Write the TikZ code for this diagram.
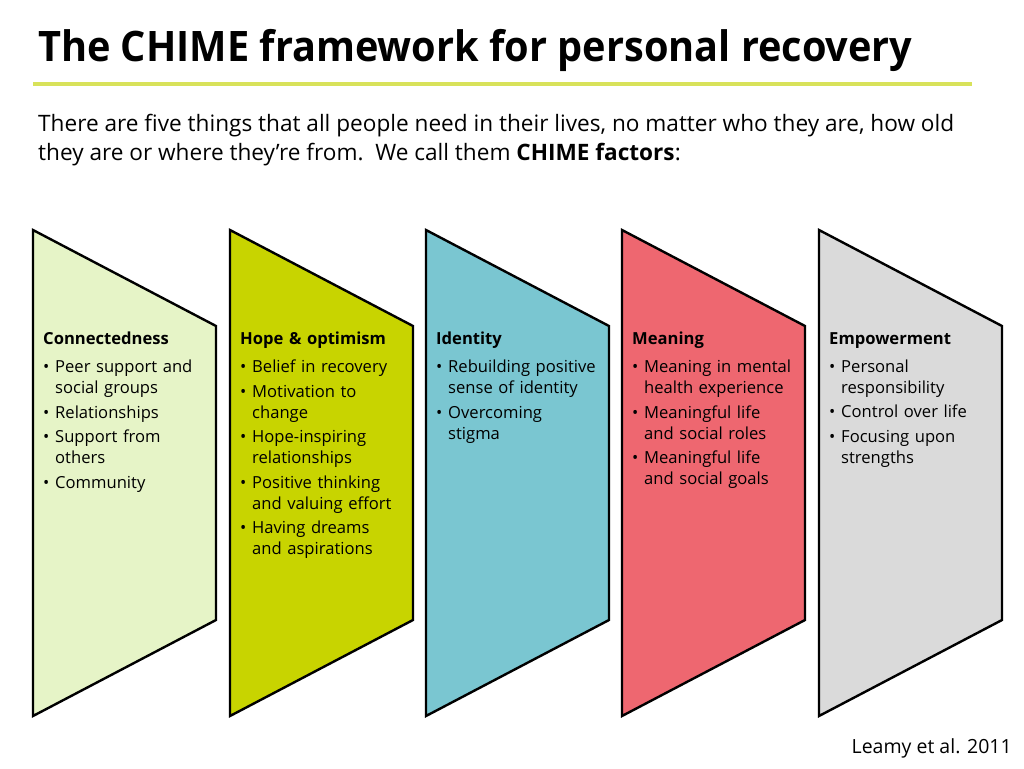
\documentclass[tikz,border=0pt]{standalone}
\usepackage{fontspec}
\setmainfont{Open Sans}

\definecolor{conncol}{HTML}{E6F4C7}
\definecolor{hopecol}{HTML}{C8D400}
\definecolor{identcol}{HTML}{7AC6D1}
\definecolor{meancol}{HTML}{EE6770}
\definecolor{empowcol}{HTML}{DADADA}
\definecolor{rulecol}{HTML}{D8E25A}

% bullet item inside a panel
\newcommand\chimeitem{\par\noindent\hangindent=12pt\hangafter=1\makebox[12pt][l]{\textbullet}}
\newcommand\chimehead[1]{\noindent\textbf{#1}\par\vspace{3.5pt}}

\tikzset{
  panel/.style={draw=black, line width=2.4pt, line join=miter},
  paneltext/.style={anchor=north west, inner sep=0pt, text width=185pt, align=left,
    font=\fontsize{16.6}{21}\selectfont\setlength\parskip{3.5pt}},
}

\begin{document}
\begin{tikzpicture}[x=1pt, y=-1pt]
  \useasboundingbox (0,0) rectangle (1024,768);

  % title and rule
  \node[anchor=base west, inner sep=0pt] (title) at (38,61)
    {\scalebox{0.945}[1]{\fontsize{42}{50}\selectfont\bfseries The CHIME framework for personal recovery}};
  \draw[rulecol, line width=3.2pt] (33,84) -- (972,84);

  \node[anchor=base west, inner sep=0pt, align=left, font=\fontsize{22.6}{29}\selectfont] (intro) at (38,160)
    {There are five things that all people need in their lives, no matter who they are, how old\\
     they are or where they’re from.\ \ We call them \textbf{CHIME factors}:};

  % the five panels
  \foreach \xo/\col in {33/conncol, 230/hopecol, 426/identcol, 622/meancol, 819/empowcol}
    \draw[panel, fill=\col] (\xo,230) -- ++(183,96) -- ++(0,294) -- (\xo,716) -- cycle;

  \node[paneltext] (conn) at (43,332) {\chimehead{Connectedness}
    \chimeitem Peer support and\newline social groups
    \chimeitem Relationships
    \chimeitem Support from\newline others
    \chimeitem Community\par};
  \node[paneltext] (hope) at (240,332) {\chimehead{Hope \& optimism}
    \chimeitem Belief in recovery
    \chimeitem Motivation to\newline change
    \chimeitem Hope-inspiring\newline relationships
    \chimeitem Positive thinking\newline and valuing effort
    \chimeitem Having dreams\newline and aspirations\par};
  \node[paneltext] (ident) at (436,332) {\chimehead{Identity}
    \chimeitem Rebuilding positive\newline sense of identity
    \chimeitem Overcoming\newline stigma\par};
  \node[paneltext] (mean) at (632,332) {\chimehead{Meaning}
    \chimeitem Meaning in mental\newline health experience
    \chimeitem Meaningful life\newline and social roles
    \chimeitem Meaningful life\newline and social goals\par};
  \node[paneltext] (empow) at (829,332) {\chimehead{Empowerment}
    \chimeitem Personal\newline responsibility
    \chimeitem Control over life
    \chimeitem Focusing upon\newline strengths\par};

  \node[anchor=base east, inner sep=0pt, font=\fontsize{19.5}{24}\selectfont] (source) at (1012,753)
    {Leamy et al. 2011};
\end{tikzpicture}
\end{document}
